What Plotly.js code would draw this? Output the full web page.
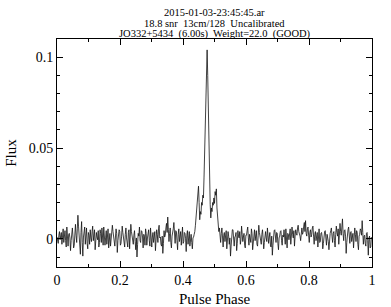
<!DOCTYPE html>
<html>
<head>
<meta charset="utf-8">
<script src="https://cdn.plot.ly/plotly-3.0.1.min.js"></script>
<style>html,body{margin:0;padding:0;background:#fff;}#chart{width:391px;height:307px;}</style>
</head>
<body>
<div id="chart"></div>
<script>
// Pulse profile, 512 bins (flux values)
const nbin = 512;
const fluxPre = [
 0.0010,-0.0015,-0.0025,0.0020,0.0040,-0.0005,0.0015,0.0035,-0.0030,0.0010,
 0.0055,-0.0020,0.0020,0.0045,-0.0010,-0.0045,0.0065,0.0015,-0.0040,0.0025,
 0.0030,0.0005,-0.0065,-0.0010,0.0045,0.0060,0.0010,-0.0050,-0.0035,0.0030,
 0.0080,0.0020,-0.0020,0.0055,0.0130,0.0070,0.0010,-0.0040,-0.0085,0.0035,
 0.0095,-0.0020,-0.0095,0.0010,0.0040,0.0065,-0.0030,0.0015,0.0060,-0.0025,
 -0.0055,0.0035,0.0020,-0.0030,0.0050,0.0005,-0.0015,0.0040,0.0070,-0.0010,
 0.0025,0.0050,-0.0060,-0.0015,0.0035,0.0010,-0.0005,0.0045,-0.0045,-0.0020,
 0.0050,0.0030,-0.0020,0.0060,0.0010,-0.0035,0.0065,0.0020,-0.0035,0.0005,
 0.0045,-0.0030,0.0005,0.0055,-0.0050,0.0015,0.0030,-0.0040,-0.0010,0.0025,
 0.0075,0.0040,0.0015,-0.0025,-0.0040,0.0010,0.0055,0.0030,-0.0075,-0.0010,
 0.0020,0.0050,0.0040,-0.0035,-0.0025,0.0015,0.0070,0.0035,0.0010,-0.0020,
 -0.0045,0.0025,0.0060,0.0005,-0.0015,-0.0045,0.0035,0.0050,-0.0055,0.0010,
 0.0080,0.0040,0.0005,-0.0025,-0.0030,0.0020,0.0045,-0.0015,-0.0060,0.0005,
 -0.0100,-0.0030,0.0030,0.0015,0.0065,-0.0010,-0.0020,0.0045,0.0040,0.0010,
 -0.0050,0.0025,0.0015,-0.0035,0.0055,0.0030,-0.0035,0.0005,0.0025,0.0050,
 -0.0010,-0.0040,0.0060,0.0020,-0.0045,0.0010,0.0035,-0.0020,0.0005,0.0040,
 -0.0065,-0.0015,0.0050,0.0025,-0.0020,0.0055,0.0075,0.0005,0.0010,-0.0030,
 -0.0040,0.0015,-0.0080,-0.0025,0.0045,0.0010,0.0020,0.0060,0.0085,0.0035,
 0.0120,0.0050,-0.0015,0.0030,0.0060,-0.0020,-0.0050,0.0015,0.0030,0.0055,
 0.0090,0.0020,-0.0025,0.0045,0.0040,-0.0010,-0.0060,0.0025,0.0055,-0.0015,
 0.0005,0.0040,-0.0035,0.0010,0.0065,-0.0025,-0.0015,0.0035,0.0030,0.0000,
 -0.0070,0.0020,0.0045,-0.0030,0.0010,0.0040,-0.0040,0.0015,0.0025,-0.0020,
 -0.0055,0.0005,0.0010,0.0025
];
const fluxPulse = [
 0.0040,0.0075,0.0120,0.0165,0.0220,0.0260,0.0290,0.0200,0.0105,0.0150,
 0.0135,0.0200,0.0185,0.0240,0.0225,0.0340,0.0480,0.0680,0.0850,0.0980,
 0.1040,0.0900,0.0660,0.0450,0.0300,0.0190,0.0115,0.0170,0.0150,0.0200,
 0.0185,0.0225,0.0195,0.0260,0.0240,0.0275,0.0170,0.0115,0.0085,0.0040,
 0.0060,0.0010
];
const fluxPost = [
 -0.0020,0.0030,0.0060,0.0010,-0.0045,0.0020,0.0035,-0.0015,0.0010,0.0045,
 -0.0055,-0.0010,0.0040,0.0015,-0.0030,0.0005,-0.0095,-0.0040,0.0025,0.0050,
 0.0050,-0.0020,-0.0040,0.0010,0.0015,0.0035,-0.0065,-0.0025,0.0045,0.0015,
 0.0005,0.0040,-0.0030,-0.0005,0.0070,0.0025,-0.0015,0.0010,0.0030,-0.0035,
 -0.0050,0.0020,0.0020,0.0045,0.0065,0.0005,-0.0035,0.0025,0.0010,-0.0020,
 0.0055,0.0030,-0.0060,-0.0015,0.0030,0.0050,-0.0010,0.0015,0.0045,-0.0030,
 -0.0040,0.0020,0.0075,0.0035,0.0015,-0.0010,-0.0030,0.0025,0.0050,0.0005,
 -0.0055,-0.0020,0.0025,0.0040,0.0005,-0.0015,0.0060,0.0030,-0.0025,0.0010,
 0.0035,-0.0040,-0.0045,0.0015,-0.0090,-0.0035,0.0020,0.0045,0.0050,0.0010,
 -0.0020,0.0035,0.0030,-0.0025,-0.0060,0.0005,0.0015,0.0040,0.0045,-0.0010,
 -0.0035,0.0020,0.0010,0.0050,-0.0015,-0.0030,0.0055,0.0015,-0.0050,0.0030,
 0.0025,-0.0005,0.0040,0.0055,-0.0030,0.0010,0.0065,0.0025,0.0005,0.0045,
 -0.0040,0.0015,0.0050,0.0030,0.0020,0.0060,0.0075,0.0040,0.0030,0.0015,
 -0.0010,0.0045,0.0060,0.0025,0.0035,0.0070,0.0090,0.0040,0.0100,0.0030,
 0.0015,0.0055,0.0065,0.0020,-0.0020,0.0035,0.0050,0.0010,0.0025,0.0060,
 0.0070,0.0015,-0.0030,0.0025,0.0040,-0.0010,0.0010,0.0035,-0.0045,0.0005,
 0.0055,-0.0020,-0.0015,0.0030,0.0035,0.0010,-0.0055,-0.0025,0.0020,0.0040,
 0.0045,0.0005,-0.0035,0.0025,0.0010,-0.0015,-0.0060,0.0020,0.0030,0.0045,
 0.0060,0.0015,-0.0020,0.0030,0.0040,-0.0010,-0.0045,0.0025,0.0070,0.0035,
 0.0015,0.0055,-0.0030,0.0020,0.0085,0.0040,0.0020,0.0065,0.0110,0.0030,
 -0.0010,0.0045,0.0050,0.0015,-0.0080,-0.0020,0.0030,0.0050,0.0065,0.0010,
 -0.0025,0.0035,0.0040,-0.0015,0.0005,0.0030,-0.0050,0.0010,0.0060,0.0025,
 -0.0015,0.0045,0.0035,-0.0030,-0.0060,0.0015,0.0025,0.0055,0.0045,0.0020,
 0.0100,0.0035,-0.0030,0.0015,0.0020,-0.0025,-0.0040,0.0030,0.0035,-0.0010,
 -0.0090,0.0005,0.0015,-0.0050,-0.0045,0.0010
];
const flux = fluxPre.concat(fluxPulse, fluxPost);
const phase = flux.map((v, i) => i / nbin);

const titleLines = [
 "2015-01-03-23:45:45.ar",
 "18.8 snr  13cm/128  Uncalibrated",
 "JO332+5434  (6.00s)  Weight=22.0  (GOOD)"
];
const xTickVals = [0, 0.2, 0.4, 0.6, 0.8, 1];
const xTickText = ["0", "0.2", "0.4", "0.6", "0.8", "1"];
const yTickVals = [0, 0.05, 0.1];
const yTickText = ["0", "0.05", "0.1"];

const font = "Liberation Serif, Times New Roman, serif";
const titleY = [1.118, 1.070, 1.020];

const trace = {
  x: phase, y: flux, type: "scatter", mode: "lines",
  line: {color: "#111", width: 0.8}, hoverinfo: "skip"
};

const layout = {
  width: 391, height: 307,
  margin: {l: 57, r: 19, t: 39, b: 40, pad: 0},
  paper_bgcolor: "#fff", plot_bgcolor: "#fff",
  showlegend: false,
  font: {family: font, color: "#000", size: 14},
  xaxis: {
    range: [0, 1], tickvals: xTickVals, ticktext: xTickText,
    ticks: "inside", ticklen: 6, tickwidth: 1, tickcolor: "#000",
    showline: true, linecolor: "#000", linewidth: 1, mirror: "ticks",
    showgrid: false, zeroline: false,
    tickfont: {family: font, size: 14, color: "#000"},
    minor: {dtick: 0.1, ticks: "inside", ticklen: 3, tickcolor: "#000", showgrid: false},
    title: {text: "Pulse Phase", font: {family: font, size: 15, color: "#000"}, standoff: 6}
  },
  yaxis: {
    range: [-0.0155, 0.11], tickvals: yTickVals, ticktext: yTickText,
    ticks: "inside", ticklen: 6, tickwidth: 1, tickcolor: "#000",
    showline: true, linecolor: "#000", linewidth: 1, mirror: "ticks",
    showgrid: false, zeroline: false,
    tickfont: {family: font, size: 14, color: "#000"},
    minor: {dtick: 0.01, tick0: 0, ticks: "inside", ticklen: 3, tickcolor: "#000", showgrid: false},
    title: {text: "Flux", font: {family: font, size: 15, color: "#000"}, standoff: 8}
  },
  annotations: titleLines.map((t, i) => ({
    text: t, xref: "paper", yref: "paper", x: 0.5, y: titleY[i],
    xanchor: "center", yanchor: "middle", showarrow: false,
    font: {family: font, size: 10.5, color: "#000"}
  }))
};

Plotly.newPlot("chart", [trace], layout, {staticPlot: true, displayModeBar: false});
</script>
</body>
</html>
